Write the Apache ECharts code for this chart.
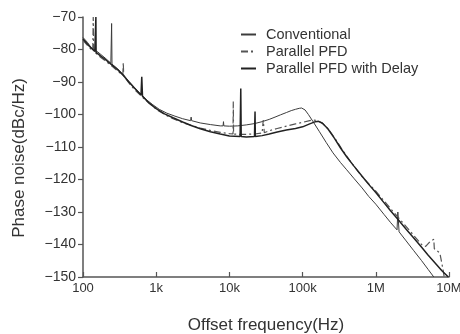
<!DOCTYPE html>
<html>
<head>
<meta charset="utf-8">
<script src="https://cdn.jsdelivr.net/npm/echarts@6/dist/echarts.min.js"></script>
<style>html,body{margin:0;padding:0;background:#fff;}#c{width:460px;height:334px;}</style>
</head>
<body>
<div id="c"></div>
<script>
// ---- data ----
const seriesNames = ['Conventional', 'Parallel PFD', 'Parallel PFD with Delay'];
const xTickLabels = ['100', '1k', '10k', '100k', '1M', '10M'];
const yTicks = [-150, -140, -130, -120, -110, -100, -90, -80, -70];

const freqConv = [100,115,130,160,200,240,243,246,249,300,350,420,500,600,750,900,1100,1400,1800,2300,2950,3000,3050,4000,5500,7500,8200,8300,8400,10000,13000,17000,22000,28000,35000,42000,50000,60000,70000,80000,90000,97000,108000,120000,140000,170000,210000,260000,330000,400000,500000,650000,800000,1000000,1300000,1600000,1950000,2000000,2080000,2600000,3300000,4200000,5200000,6200000];
const noiseConv = [-76.3,-77.8,-79.5,-80.8,-82.6,-84.2,-84.3,-72,-84.5,-86,-87.6,-89.7,-91.6,-93.5,-95.6,-97,-98.4,-99.6,-100.5,-101.3,-101.9,-100.8,-101.9,-102.6,-103.1,-103.5,-103.5,-102.2,-103.5,-103.6,-103.5,-103.2,-102.8,-102.2,-101.5,-100.8,-100.1,-99.4,-98.8,-98.4,-98.1,-98.0,-98.6,-100,-102.3,-105.3,-108.6,-111.8,-114.8,-117,-119.6,-122.6,-125.2,-127.6,-130.8,-133.3,-135.5,-130,-136.1,-138.9,-141.9,-144.9,-147.7,-150];

const freqPar = [100,120,136,138,140,170,200,250,300,350,355,360,420,500,650,800,1000,1300,1700,2300,3000,4000,5500,7500,10000,11200,11300,11400,14000,17000,22000,28000,29000,30000,35000,45000,60000,80000,100000,125000,140000,160000,190000,230000,280000,340000,420000,520000,650000,800000,1000000,1300000,1600000,2000000,2600000,3300000,4300000,4800000,5500000,6200000,6300000,7500000,8300000,8600000];
const noisePar = [-77.2,-79.2,-80.4,-70,-80.6,-82.2,-83.4,-85.2,-86.7,-87.9,-84,-88.1,-90.2,-92.2,-94.7,-96.4,-98.4,-100,-101.3,-102.5,-103.3,-104.2,-104.9,-105.5,-105.9,-106,-96,-106,-106.1,-106.1,-106,-105.7,-101.7,-105.6,-105,-104.3,-103.6,-102.9,-102.4,-101.9,-101.7,-101.9,-102.8,-104.8,-107.5,-110.5,-113.5,-116.3,-119.1,-121.3,-123.6,-126.6,-129,-131.5,-134.5,-137.2,-140.2,-140.6,-139.1,-138.4,-141.3,-142.6,-147.8,-150];

const freqDelay = [100,120,145,149,150,151,170,200,250,300,350,420,500,620,635,650,800,1000,1300,1700,2300,3000,4000,5500,7500,10000,14000,14100,14300,14500,17000,22000,22200,22400,22600,28000,35000,45000,60000,80000,100000,125000,150000,165000,185000,220000,270000,330000,400000,500000,650000,800000,1000000,1300000,1600000,2000000,2600000,3300000,4200000,5200000,6500000,8000000,9800000];
const noiseDelay = [-76.8,-78.8,-80.6,-80.8,-70,-80.9,-81.8,-83,-84.8,-86.3,-87.8,-89.9,-91.8,-94,-88.4,-94.4,-96.5,-98.2,-99.8,-101,-102.3,-103.4,-104.4,-105.3,-106,-106.6,-106.8,-106.8,-92,-106.8,-106.9,-106.8,-106.8,-99.1,-106.8,-106.5,-106,-105.4,-104.8,-104.3,-103.8,-102.9,-102.2,-102.1,-102.6,-104.3,-107.2,-110.3,-113,-115.8,-119,-121.5,-124,-127.2,-129.7,-132.2,-135.3,-138,-140.8,-143.3,-145.8,-148.1,-150];

const zip = (f, v) => f.map((x, i) => [x, v[i]]);
const FONT = 'Liberation Sans, Arial, sans-serif';

const chart = echarts.init(document.getElementById('c'), null, {renderer: 'canvas'});
chart.setOption({
  animation: false,
  backgroundColor: '#fff',
  grid: {left: 83, right: 11, top: 17, bottom: 57, containLabel: false, outerBoundsMode: 'none'},
  legend: {
    orient: 'vertical', left: 240, top: 27, padding: 0,
    itemWidth: 15, itemHeight: 10, itemGap: 2,
    itemStyle: {opacity: 0},
    textStyle: {fontFamily: FONT, fontSize: 14.5, color: '#333', lineHeight: 14, padding: [0, 0, 0, 5]},
    data: seriesNames
  },
  xAxis: {
    type: 'log', logBase: 10, min: 100, max: 1e7,
    name: 'Offset frequency(Hz)', nameLocation: 'middle', nameGap: 40,
    nameTextStyle: {fontFamily: FONT, fontSize: 17, color: '#333'},
    axisLine: {lineStyle: {color: '#555', width: 1.5}},
    axisTick: {inside: true, length: 5, lineStyle: {color: '#555', width: 1.2}},
    splitLine: {show: false}, minorTick: {show: false},
    axisLabel: {
      fontFamily: FONT, fontSize: 13, color: '#333', margin: 5,
      formatter: v => xTickLabels[Math.round(Math.log10(v)) - 2]
    }
  },
  yAxis: {
    type: 'value', min: yTicks[0], max: yTicks[yTicks.length - 1], interval: 10,
    name: 'Phase noise(dBc/Hz)', nameLocation: 'middle', nameGap: 55, nameRotate: 90,
    nameTextStyle: {fontFamily: FONT, fontSize: 17, color: '#333', padding: [0, 22, 0, 0]},
    axisLine: {show: true, lineStyle: {color: '#555', width: 1.5}},
    axisTick: {show: true, inside: false, length: 5, lineStyle: {color: '#555', width: 1.2}},
    splitLine: {show: false},
    axisLabel: {
      fontFamily: FONT, fontSize: 14, color: '#333', margin: 7,
      formatter: v => (v < 0 ? '\u2212' + Math.abs(v) : String(v))
    }
  },
  series: [
    {name: seriesNames[0], type: 'line', symbol: 'none', data: zip(freqConv, noiseConv),
     lineStyle: {color: '#3c3c3c', width: 1}, itemStyle: {color: '#3c3c3c'}},
    {name: seriesNames[1], type: 'line', symbol: 'none', data: zip(freqPar, noisePar),
     lineStyle: {color: '#555', width: 1.2, type: [7, 3, 2, 3]}, itemStyle: {color: '#555'}},
    {name: seriesNames[2], type: 'line', symbol: 'none', data: zip(freqDelay, noiseDelay),
     lineStyle: {color: '#222', width: 1.5}, itemStyle: {color: '#222'}}
  ]
});
</script>
</body>
</html>
